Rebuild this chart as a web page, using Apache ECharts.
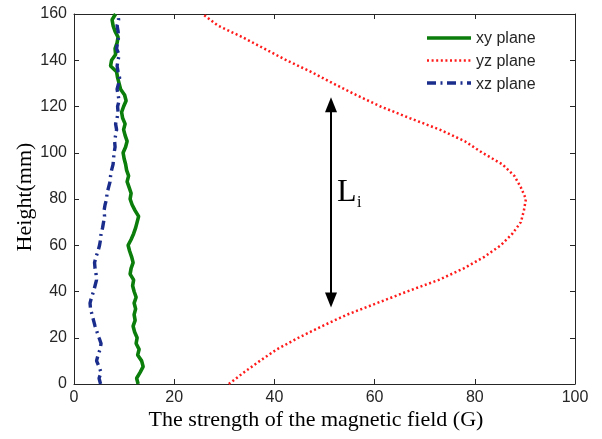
<!DOCTYPE html>
<html>
<head>
<meta charset="utf-8">
<script src="https://cdn.jsdelivr.net/npm/echarts@6/dist/echarts.min.js"></script>
<style>
  html, body { margin: 0; padding: 0; background: #fff; }
  #chart { width: 602px; height: 439px; }
</style>
</head>
<body>
<div id="chart"></div>
<script>
// Heights (mm) at which each plane was sampled
const heightsYz = [0, 5, 10, 15, 20, 25, 30, 35, 40, 45, 50, 55, 60, 65, 70, 75, 80,
  85, 90, 95, 100, 105, 110, 115, 120, 125, 130, 135, 140, 145, 150, 155, 160];
const heightsXyXz = [0, 2.5, 5, 7.5, 10, 12.5, 15, 17.5, 20, 22.5, 25, 27.5, 30, 32.5, 35, 37.5,
  40, 42.5, 45, 47.5, 50, 52.5, 55, 57.5, 60, 62.5, 65, 67.5, 70, 72.5, 75, 77.5,
  80, 82.5, 85, 87.5, 90, 92.5, 95, 97.5, 100, 102.5, 105, 107.5, 110, 112.5, 115, 117.5,
  120, 122.5, 125, 127.5, 130, 132.5, 135, 137.5, 140, 142.5, 145, 147.5, 150, 152.5, 155, 157.5, 160];

// Field strength (G)
const yzPlane = [30.9, 33.9, 37.1, 40.5, 44.8, 49.5, 54.5, 60.5, 66.5, 72.8, 77.8, 81.9, 85.2,
  87.5, 89.2, 89.8, 90.2, 89.2, 87.9, 85.5, 81.5, 78.0, 73.0, 67.0, 61.2, 56.3, 51.7, 47.3,
  42.4, 38.0, 33.6, 28.7, 25.7];
const xyPlane = [12.8, 12.5, 13.2, 13.8, 13.5, 12.7, 13.0, 12.4, 12.6, 12.1, 11.8, 12.2, 12.0,
  12.3, 12.0, 12.4, 12.0, 11.7, 11.9, 11.2, 11.4, 11.8, 11.5, 11.1, 10.8, 11.4, 11.9, 12.3,
  12.6, 12.9, 12.2, 11.6, 11.2, 11.4, 11.0, 10.6, 10.9, 10.5, 10.3, 10.0, 9.8, 10.3, 10.6,
  10.2, 9.9, 10.2, 9.7, 9.5, 9.9, 10.4, 10.1, 9.3, 9.0, 8.7, 8.5, 7.3, 7.5, 8.3, 8.2, 8.6,
  8.8, 8.2, 7.8, 7.6, 8.3];
const xzPlane = [5.3, 5.0, 5.4, 5.0, 4.5, 4.8, 5.2, 5.4, 5.0, 4.6, 4.2, 3.9, 3.6, 3.3, 3.2,
  3.5, 3.9, 4.2, 4.5, 4.4, 4.2, 4.1, 4.4, 4.8, 5.1, 5.3, 5.4, 5.7, 5.9, 6.1, 6.0, 6.2, 6.5,
  6.6, 6.9, 7.2, 7.3, 7.5, 7.8, 7.9, 8.0, 8.2, 8.1, 8.3, 8.5, 8.3, 8.6, 8.8, 8.7, 9.0, 8.8,
  8.6, 8.9, 9.1, 8.8, 8.6, 8.8, 9.0, 8.5, 8.7, 8.9, 8.8, 8.6, 8.9, 8.8];

const seriesNames = ['xy plane', 'yz plane', 'xz plane'];
const xTicks = [0, 20, 40, 60, 80, 100];
const yTicks = [0, 20, 40, 60, 80, 100, 120, 140, 160];

// Vertical extent of the L_i annotation arrow (mm), at strength 51.3 G
const spanStrength = 51.3;
const spanTop = 120.8;
const spanBottom = 36.3;

const pairs = (xs, hs) => xs.map((v, i) => [v, hs[i]]);

const axisColor = '#262626';
const tickFont = { fontFamily: '"Liberation Sans", Arial, sans-serif', fontSize: 16, color: '#262626' };

const chart = echarts.init(document.getElementById('chart'), null, { renderer: 'canvas' });

const valueAxisBase = {
  type: 'value',
  axisLine: { show: true, onZero: false, lineStyle: { color: axisColor, width: 1 } },
  axisTick: { show: true, inside: true, length: 5, lineStyle: { color: axisColor, width: 1 } },
  splitLine: { show: false },
  minorTick: { show: false }
};

const styles = {
  'xy plane': { color: '#0a7d0a', width: 3.6, type: 'solid', cap: 'butt' },
  'yz plane': { color: '#ff1a1a', width: 2.5, type: [2, 2.6], cap: 'butt' },
  'xz plane': { color: '#1a2d8c', width: 3.4, type: [9, 4.5, 2, 4.5], cap: 'butt' }
};

// Legend rows
const legendX = 427, legendY = 38, legendRow = 22.5;

chart.setOption({
  animation: false,
  backgroundColor: '#ffffff',
  grid: { left: 74, right: 27, top: 14, bottom: 55, containLabel: false },
  legend: {
    orient: 'vertical',
    left: legendX,
    top: legendY - 7,
    padding: 0,
    itemWidth: 44,
    itemHeight: 14,
    itemGap: 7,
    itemStyle: { opacity: 0 },
    data: seriesNames.map(n => ({ name: n, icon: 'rect' })),
    textStyle: { fontFamily: '"Liberation Sans", Arial, sans-serif', fontSize: 16, color: '#262626', lineHeight: 15.5 }
  },
  xAxis: [
    Object.assign({}, valueAxisBase, {
      position: 'bottom', min: xTicks[0], max: xTicks[xTicks.length - 1], interval: 20,
      axisLabel: Object.assign({ margin: 6 }, tickFont)
    }),
    Object.assign({}, valueAxisBase, {
      position: 'top', min: xTicks[0], max: xTicks[xTicks.length - 1], interval: 20,
      axisLabel: { show: false }
    })
  ],
  yAxis: [
    Object.assign({}, valueAxisBase, {
      position: 'left', min: yTicks[0], max: yTicks[yTicks.length - 1], interval: 20,
      axisLabel: Object.assign({ margin: 7 }, tickFont)
    }),
    Object.assign({}, valueAxisBase, {
      position: 'right', min: yTicks[0], max: yTicks[yTicks.length - 1], interval: 20,
      axisLabel: { show: false }
    })
  ],
  series: [
    {
      name: seriesNames[0], type: 'line', data: pairs(xyPlane, heightsXyXz),
      showSymbol: false, symbol: 'none', z: 3,
      lineStyle: styles['xy plane'],
      itemStyle: { color: styles['xy plane'].color }
    },
    {
      name: seriesNames[1], type: 'line', data: pairs(yzPlane, heightsYz),
      showSymbol: false, symbol: 'none', z: 2,
      lineStyle: styles['yz plane'],
      itemStyle: { color: styles['yz plane'].color },
      markLine: {
        silent: true,
        symbol: ['triangle', 'triangle'],
        symbolSize: [12, 15],
        label: { show: false },
        lineStyle: { color: '#000', width: 2, type: 'solid' },
        data: [[{ coord: [spanStrength, spanBottom] }, { coord: [spanStrength, spanTop] }]]
      }
    },
    {
      name: seriesNames[2], type: 'line', data: pairs(xzPlane, heightsXyXz),
      showSymbol: false, symbol: 'none', z: 3,
      lineStyle: styles['xz plane'],
      itemStyle: { color: styles['xz plane'].color }
    }
  ],
  graphic: [
    // Legend line samples drawn over the (transparent) legend icons
    ...seriesNames.map((n, i) => ({
      type: 'line', silent: true, z: 100,
      shape: { x1: legendX, y1: legendY + i * legendRow, x2: legendX + 44, y2: legendY + i * legendRow },
      style: { stroke: styles[n].color, lineWidth: styles[n].width, lineDash: styles[n].type === 'solid' ? null : styles[n].type, lineCap: 'butt' }
    })),
    {
      type: 'text',
      style: {
        x: 316, y: 420, text: 'The strength of the magnetic field (G)',
        font: '22px "Liberation Serif", "Times New Roman", serif', fill: '#000',
        align: 'center', verticalAlign: 'middle'
      }
    },
    {
      type: 'text', rotation: Math.PI / 2, x: 25, y: 197,
      style: {
        x: 0, y: 0, text: 'Height(mm)',
        font: '22px "Liberation Serif", "Times New Roman", serif', fill: '#000',
        align: 'center', verticalAlign: 'middle'
      }
    },
    {
      type: 'text',
      style: {
        x: 337, y: 193, text: 'L',
        font: '32px "Liberation Serif", "Times New Roman", serif', fill: '#000',
        align: 'left', verticalAlign: 'middle'
      }
    },
    {
      type: 'text',
      style: {
        x: 357, y: 203, text: 'i',
        font: '16px "Liberation Serif", "Times New Roman", serif', fill: '#000',
        align: 'left', verticalAlign: 'middle'
      }
    }
  ]
});
</script>
</body>
</html>
